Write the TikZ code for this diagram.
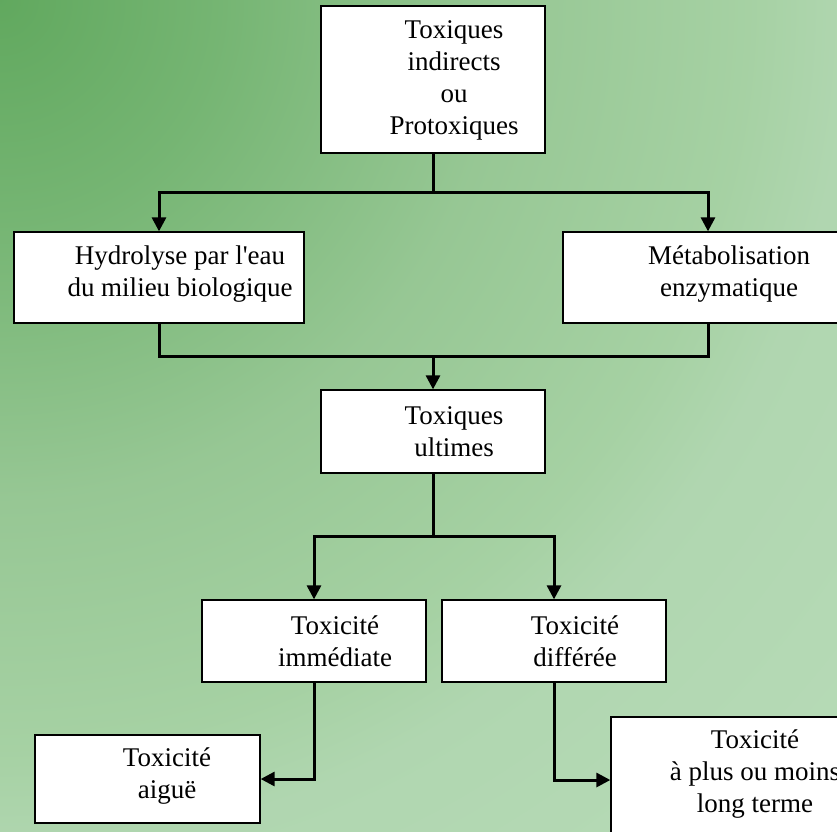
\documentclass[tikz,border=0pt]{standalone}
\usepackage{fontspec}
\setmainfont{Liberation Serif}[Ligatures=TeXOff]
\usetikzlibrary{arrows.meta}
\pgfdeclareradialshading{bgshade}{\pgfpoint{0bp}{0bp}}{%
  rgb(0bp)=(0.38,0.66,0.37);
  rgb(4.6bp)=(0.46,0.71,0.45);
  rgb(10.4bp)=(0.59,0.78,0.58);
  rgb(15.6bp)=(0.65,0.82,0.64);
  rgb(17.7bp)=(0.69,0.84,0.69);
  rgb(25bp)=(0.72,0.86,0.72);
  rgb(50bp)=(0.72,0.86,0.72)}
\begin{document}
\begin{tikzpicture}[x=1pt,y=-1pt,
  box/.style={draw=black,fill=white,line width=1.3pt,inner sep=0pt},
  txt/.style={align=center,inner sep=0pt,font=\fontsize{27}{32}\selectfont},
  conn/.style={line width=3pt,line cap=rect},
  arr/.style={line width=3pt,-{Triangle[width=14pt,length=14pt]}}]
\useasboundingbox (0,0) rectangle (837,831);
\clip (0,0) rectangle (837,831);
\shade[shading=bgshade] (0,0) circle (1200pt);

% boxes
\node[box,minimum width=224pt,minimum height=147pt] (top) at (433,79.5) {};
\node[box,minimum width=290pt,minimum height=91pt] (hyd) at (159,277.5) {};
\node[box,minimum width=290pt,minimum height=91pt] (met) at (708,277.5) {};
\node[box,minimum width=224pt,minimum height=83pt] (ult) at (433,431.5) {};
\node[box,minimum width=224pt,minimum height=82pt] (imm) at (314,641) {};
\node[box,minimum width=224pt,minimum height=82pt] (dif) at (554,641) {};
\node[box,minimum width=225pt,minimum height=88pt] (aig) at (147.5,779) {};
\node[box,minimum width=258pt,minimum height=126pt] (lt) at (740,780) {};

% texts
\node[txt] (ttop) at (454,80) {Toxiques\\indirects\\ou\\Protoxiques};
\node[txt] (thyd) at (180,274) {Hydrolyse par l'eau\\du milieu biologique};
\node[txt] (tmet) at (729,274) {Métabolisation\\enzymatique};
\node[txt] (tult) at (454,432) {Toxiques\\ultimes};
\node[txt] (timm) at (335,641) {Toxicité\\immédiate};
\node[txt] (tdif) at (575,641) {Toxicité\\différée};
\node[txt] (taig) at (167,776) {Toxicité\\aiguë};
\node[txt] (tlt) at (755,774) {Toxicité\\à plus ou moins\\long terme};

% connectors
\coordinate (j1) at (433,192);
\coordinate (j2) at (433,356);
\coordinate (j3) at (433,536);
\draw[conn] (top.south) -- (j1);
\draw[arr] (j1) -| (hyd.north);
\draw[arr] (j1) -| (met.north);
\draw[conn] (hyd.south) |- (j2) -| (met.south);
\draw[arr] (j2) -- (ult.north);
\draw[conn] (ult.south) -- (j3);
\draw[arr] (j3) -| (imm.north);
\draw[arr] (j3) -| (dif.north);
\draw[arr] (imm.south) |- (aig.east);
\draw[arr] (dif.south) |- (lt.west);
\end{tikzpicture}
\end{document}
